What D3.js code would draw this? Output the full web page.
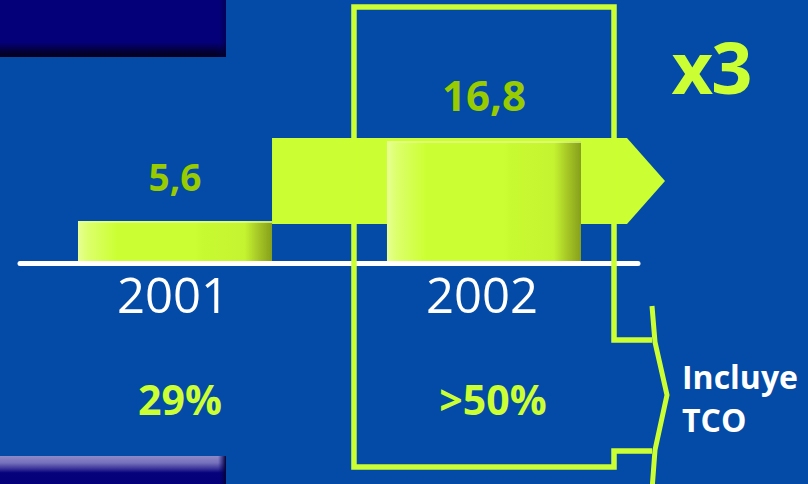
<!DOCTYPE html>
<html>
<head>
<meta charset="utf-8">
<script src="https://cdn.jsdelivr.net/npm/d3@7"></script>
<style>
  html, body { margin: 0; padding: 0; background: #034ba6; }
  svg { display: block; }
  text { font-family: "Open Sans", "Noto Sans", sans-serif; }
</style>
</head>
<body>
<svg id="chart" width="808" height="484"></svg>
<script>
// ---- data ----
const years = ["2001", "2002"];
const values = [5.6, 16.8];
const valueLabels = ["5,6", "16,8"];
const shareLabels = ["29%", ">50%"];
const multiplierLabel = "x3";
const noteLines = ["Incluye", "TCO"];

// ---- setup ----
const W = 808, H = 484;
const svg = d3.select("#chart");
const lime = "#ccff33";
const limeDark = "#99cc00";
const bg = "#034ba6";

const x = d3.scaleBand().domain(years).range([20, 639]).paddingInner(0.372).paddingOuter(0.1877);
const y = d3.scaleLinear().domain([0, d3.max(values)]).range([261, 141]);
const bw = x.bandwidth();

const defs = svg.append("defs");
const barGrad = defs.append("linearGradient").attr("id", "barGrad").attr("x1", 0).attr("x2", 1).attr("y1", 0).attr("y2", 0);
[[0, "#e8ff94"], [0.05, "#dcff6c"], [0.2, "#ccff33"], [0.6, "#ccff33"], [0.64, "#c8fa31"], [0.86, "#c4f430"], [0.93, "#a6c626"], [1, "#86a01a"]]
  .forEach(([o, c]) => barGrad.append("stop").attr("offset", o).attr("stop-color", c));

const topBlock = defs.append("linearGradient").attr("id", "topBlock").attr("x1", 0).attr("x2", 0).attr("y1", 0).attr("y2", 1);
[[0, "#04007a"], [0.74, "#04007a"], [0.88, "#030040"], [1, "#040018"]]
  .forEach(([o, c]) => topBlock.append("stop").attr("offset", o).attr("stop-color", c));

const botBlock = defs.append("linearGradient").attr("id", "botBlock").attr("x1", 0).attr("x2", 0).attr("y1", 0).attr("y2", 1);
[[0, "#8e8ac8"], [0.25, "#7570bb"], [0.45, "#3a349a"], [0.6, "#06027c"], [1, "#04007a"]]
  .forEach(([o, c]) => botBlock.append("stop").attr("offset", o).attr("stop-color", c));

const edgeShade = defs.append("linearGradient").attr("id", "edgeShade").attr("x1", 0).attr("x2", 1).attr("y1", 0).attr("y2", 0);
[[0, "#04007a", 0], [1, "#020030", 1]]
  .forEach(([o, c, op]) => edgeShade.append("stop").attr("offset", o).attr("stop-color", c).attr("stop-opacity", op));

// background
svg.append("rect").attr("width", W).attr("height", H).attr("fill", bg);

// decorative navy blocks
svg.append("rect").attr("x", 0).attr("y", 0).attr("width", 226).attr("height", 57).attr("fill", "url(#topBlock)");
svg.append("rect").attr("x", 216).attr("y", 0).attr("width", 10).attr("height", 57).attr("fill", "url(#edgeShade)").attr("opacity", 0.5);
svg.append("rect").attr("x", 0).attr("y", 456).attr("width", 226).attr("height", 28).attr("fill", "url(#botBlock)");
svg.append("rect").attr("x", 218).attr("y", 456).attr("width", 8).attr("height", 28).attr("fill", "url(#edgeShade)");

// growth arrow (from 2001 bar to beyond 2002 bar)
const aX0 = x(years[0]) + bw;
const aHead = x(years[1]) + bw + 46;
const aTip = aHead + 38;
const aTop = y(values[1]) - 3;
const aBot = y(values[0]) + 3;
const aMid = (aTop + aBot) / 2;
svg.append("path")
  .attr("d", d3.line()([[aX0, aTop], [aHead, aTop], [aTip, aMid], [aHead, aBot], [aX0, aBot]]) + "Z")
  .attr("fill", lime);

// bars
const bars = svg.append("g");
bars.selectAll("rect.bar").data(years).join("rect")
  .attr("class", "bar")
  .attr("x", d => x(d))
  .attr("y", (d, i) => y(values[i]))
  .attr("width", bw)
  .attr("height", (d, i) => y(0) - y(values[i]))
  .attr("fill", "url(#barGrad)");
bars.selectAll("rect.hl").data(years).join("rect")
  .attr("class", "hl")
  .attr("x", d => x(d))
  .attr("y", (d, i) => y(values[i]))
  .attr("width", bw)
  .attr("height", 2)
  .attr("fill", "#e6ff90")
  .attr("opacity", 0.7);

// baseline
svg.append("line")
  .attr("x1", 20).attr("x2", 638)
  .attr("y1", y(0) + 2.5).attr("y2", y(0) + 2.5)
  .attr("stroke", "#ffffff").attr("stroke-width", 5).attr("stroke-linecap", "round");

// highlight frame around 2002 with connector to bracket
const fL = x(years[1]) - 33, fR = x(years[1]) + bw + 33;
const fT = 7, fB = 467;
const bX = 652;
svg.append("path")
  .attr("d", d3.line()([[bX, 340], [fR, 340], [fR, fT], [fL, fT], [fL, fB], [fR, fB], [fR, 451], [bX, 451]]))
  .attr("fill", "none").attr("stroke", lime).attr("stroke-width", 5.5).attr("stroke-linejoin", "miter");

// bracket
svg.append("path")
  .attr("d", d3.line()([[bX, 306], [655, 342], [667, 395], [655, 450], [652, 490]]))
  .attr("fill", "none").attr("stroke", lime).attr("stroke-width", 5).attr("stroke-linejoin", "miter");

// value labels
svg.selectAll("text.val").data(years).join("text")
  .attr("class", "val")
  .attr("x", d => x(d) + bw / 2)
  .attr("y", (d, i) => y(values[i]) - 30)
  .attr("text-anchor", "middle")
  .attr("font-weight", 700)
  .attr("font-size", (d, i) => i === 0 ? 37 : 42)
  .attr("fill", limeDark)
  .text((d, i) => valueLabels[i]);

// year labels
svg.selectAll("text.year").data(years).join("text")
  .attr("class", "year")
  .attr("x", d => x(d) + bw / 2 - 2)
  .attr("y", 313)
  .attr("text-anchor", "middle")
  .attr("font-size", 49)
  .attr("fill", "#ffffff")
  .text(d => d);

// share labels
svg.selectAll("text.share").data(years).join("text")
  .attr("class", "share")
  .attr("x", (d, i) => x(d) + bw / 2 + (i === 0 ? 5 : 9))
  .attr("y", 415)
  .attr("text-anchor", "middle")
  .attr("font-weight", 700)
  .attr("font-size", 41)
  .attr("fill", lime)
  .text((d, i) => shareLabels[i]);

// multiplier
svg.append("text")
  .attr("x", 711).attr("y", 94)
  .attr("text-anchor", "middle")
  .attr("font-weight", 700)
  .attr("font-size", 72)
  .attr("letter-spacing", -2)
  .attr("fill", lime)
  .text(multiplierLabel);

// note
svg.selectAll("text.note").data(noteLines).join("text")
  .attr("class", "note")
  .attr("x", 682)
  .attr("y", (d, i) => 389 + i * 43)
  .attr("font-weight", 700)
  .attr("font-size", 32)
  .attr("fill", "#ffffff")
  .text(d => d);
</script>
</body>
</html>
